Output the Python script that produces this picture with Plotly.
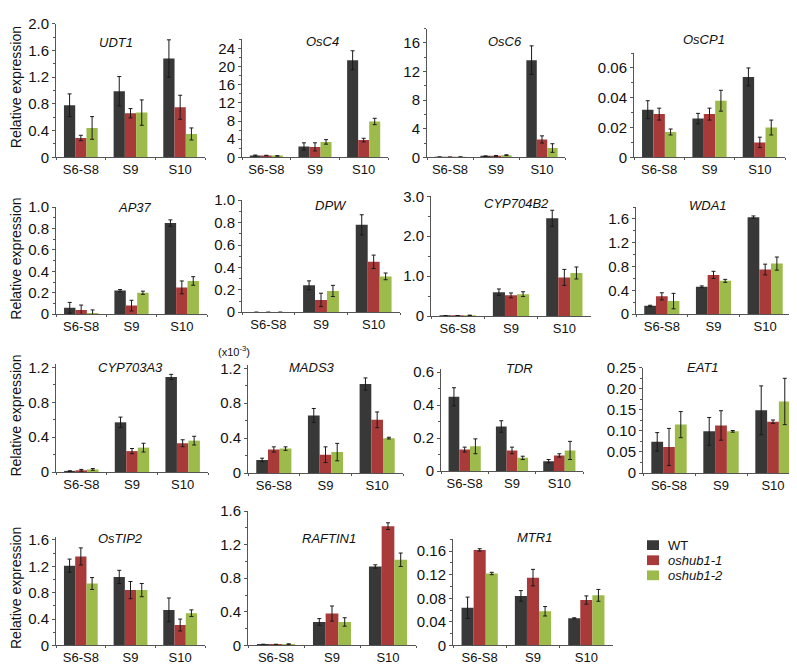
import plotly.graph_objects as go

W, H = 797, 664

# ==============================
# DATA
# ==============================
stages = ["S6-S8", "S9", "S10"]
genotypes = ["WT", "<i>oshub1-1</i>", "<i>oshub1-2</i>"]
colors = ["#383838", "#A83B3A", "#9DBB4A"]

# one row per genotype: WT, oshub1-1, oshub1-2 ; columns follow stages
udt1 = [[0.78, 0.99, 1.48], [0.29, 0.66, 0.75], [0.44, 0.67, 0.35]]
udt1_err = [[0.17, 0.22, 0.28], [0.04, 0.07, 0.18], [0.17, 0.19, 0.09]]

osc4 = [[0.4, 2.4, 21.4], [0.4, 2.3, 3.8], [0.3, 3.4, 7.9]]
osc4_err = [[0.1, 0.8, 2.1], [0.05, 0.9, 0.4], [0.05, 0.5, 0.7]]

osc6 = [[0.03, 0.15, 13.6], [0.02, 0.2, 2.5], [0.04, 0.3, 1.3]]
osc6_err = [[0.02, 0.05, 2.0], [0.01, 0.05, 0.5], [0.02, 0.06, 0.6]]

oscp1 = [[0.032, 0.026, 0.054], [0.029, 0.029, 0.010], [0.017, 0.038, 0.020]]
oscp1_err = [[0.006, 0.0035, 0.006], [0.004, 0.004, 0.0035], [0.002, 0.007, 0.005]]

ap37 = [[0.06, 0.22, 0.85], [0.04, 0.08, 0.25], [0.01, 0.20, 0.31]]
ap37_err = [[0.05, 0.01, 0.03], [0.045, 0.05, 0.06], [0.03, 0.015, 0.04]]

dpw = [[0, 0.24, 0.78], [0, 0.11, 0.45], [0, 0.19, 0.32]]
dpw_err = [[None, 0.04, 0.09], [None, 0.06, 0.06], [None, 0.05, 0.03]]

cyp704b2 = [[0.01, 0.60, 2.45], [0.01, 0.52, 0.97], [0.02, 0.55, 1.08]]
cyp704b2_err = [[0.005, 0.08, 0.2], [0.005, 0.06, 0.2], [0.005, 0.06, 0.15]]

wda1 = [[0.14, 0.46, 1.63], [0.30, 0.66, 0.75], [0.22, 0.56, 0.85]]
wda1_err = [[0.01, 0.015, 0.02], [0.06, 0.06, 0.09], [0.13, 0.025, 0.11]]

cyp703a3 = [[0.01, 0.57, 1.09], [0.02, 0.24, 0.33], [0.03, 0.28, 0.36]]
cyp703a3_err = [[0.005, 0.06, 0.03], [0.01, 0.03, 0.04], [0.01, 0.05, 0.05]]

mads3 = [[0.15, 0.66, 1.02], [0.27, 0.21, 0.61], [0.28, 0.24, 0.40]]
mads3_err = [[0.02, 0.08, 0.07], [0.03, 0.09, 0.09], [0.02, 0.10, 0.01]]

tdr = [[0.45, 0.27, 0.06], [0.13, 0.125, 0.095], [0.15, 0.08, 0.125]]
tdr_err = [[0.055, 0.035, 0.01], [0.015, 0.02, 0.01], [0.045, 0.01, 0.055]]

eat1 = [[0.074, 0.099, 0.149], [0.062, 0.113, 0.122], [0.115, 0.099, 0.170]]
eat1_err = [[0.022, 0.033, 0.058], [0.044, 0.035, 0.004], [0.031, 0.002, 0.055]]

ostip2 = [[1.21, 1.04, 0.54], [1.35, 0.84, 0.31], [0.94, 0.84, 0.49]]
ostip2_err = [[0.1, 0.1, 0.18], [0.13, 0.13, 0.09], [0.09, 0.1, 0.05]]

raftin1 = [[0.01, 0.28, 0.94], [0.01, 0.38, 1.42], [0.015, 0.28, 1.02]]
raftin1_err = [[0.005, 0.04, 0.02], [0.005, 0.09, 0.04], [0.005, 0.05, 0.08]]

mtr1 = [[0.064, 0.084, 0.046], [0.162, 0.115, 0.077], [0.122, 0.058, 0.085]]
mtr1_err = [[0.018, 0.009, 0.001], [0.002, 0.014, 0.007], [0.002, 0.008, 0.01]]

# tick labels
ticks_2 = [0, 0.4, 0.8, 1.2, 1.6, 2.0]
labels_2 = ["0", "0.4", "0.8", "1.2", "1.6", "2.0"]
ticks_24 = [0, 4, 8, 12, 16, 20, 24]
labels_24 = ["0", "4", "8", "12", "16", "20", "24"]
ticks_16 = [0, 4, 8, 12, 16]
labels_16 = ["0", "4", "8", "12", "16"]
ticks_006 = [0, 0.02, 0.04, 0.06]
labels_006 = ["0", "0.02", "0.04", "0.06"]
ticks_1 = [0, 0.2, 0.4, 0.6, 0.8, 1.0]
labels_1 = ["0", "0.2", "0.4", "0.6", "0.8", "1.0"]
ticks_3 = [0, 1, 2, 3]
labels_3 = ["0", "1.0", "2.0", "3.0"]
ticks_16b = [0, 0.4, 0.8, 1.2, 1.6]
labels_16b = ["0", "0.4", "0.8", "1.2", "1.6"]
ticks_12 = [0, 0.4, 0.8, 1.2]
labels_12 = ["0", "0.4", "0.8", "1.2"]
ticks_06 = [0, 0.2, 0.4, 0.6]
labels_06 = ["0", "0.2", "0.4", "0.6"]
ticks_025 = [0, 0.05, 0.10, 0.15, 0.20, 0.25]
labels_025 = ["0", "0.05", "0.10", "0.15", "0.20", "0.25"]
ticks_016 = [0, 0.04, 0.08, 0.12, 0.16]
labels_016 = ["0", "0.04", "0.08", "0.12", "0.16"]

# ==============================
# PANEL LAYOUT (pixels)
# title, means, errs, tickvals, ticktext, ymax, minor step,
# x-left, x-right, y of ymax, y of zero, title centre x, title centre y
# ==============================
panels = [
    ("UDT1", udt1, udt1_err, ticks_2, labels_2, 2.0, 0.2, 48, 197, 7, 144, 108, 26),
    ("OsC4", osc4, osc4_err, ticks_24, labels_24, 26, 2, 234, 380, 23, 144, 314, 25),
    ("OsC6", osc6, osc6_err, ticks_16, labels_16, 18, 2, 419, 557, 12, 144, 497, 25),
    ("OsCP1", oscp1, oscp1_err, ticks_006, labels_006, 0.07, 0.01, 626, 777, 37, 144, 696, 23),
    ("AP37", ap37, ap37_err, ticks_1, labels_1, 1.0, 0.1, 48, 199, 195, 305, 127, 195),
    ("DPW", dpw, dpw_err, ticks_1, labels_1, 1.0, 0.1, 234, 392, 188, 303, 323, 193),
    ("CYP704B2", cyp704b2, cyp704b2_err, ticks_3, labels_3, 3.0, 0.5, 423, 583, 184, 307, 508, 191),
    ("WDA1", wda1, wda1_err, ticks_16b, labels_16b, 1.8, 0.2, 628, 783, 195, 305, 700, 193),
    ("CYP703A3", cyp703a3, cyp703a3_err, ticks_12, labels_12, 1.24, 0.2, 48, 200, 356, 467, 122, 360),
    ("MADS3", mads3, mads3_err, ticks_12, labels_12, 1.24, 0.2, 240, 395, 357, 468, 304, 360),
    ("TDR", tdr, tdr_err, ticks_06, labels_06, 0.62, 0.1, 433, 575, 361, 466, 512, 361),
    ("EAT1", eat1, eat1_err, ticks_025, labels_025, 0.25, 0.025, 635, 791, 360, 468, 695, 360),
    ("OsTIP2", ostip2, ostip2_err, ticks_16b, labels_16b, 1.64, 0.2, 48, 197, 534, 645, 112, 535),
    ("RAFTIN1", raftin1, raftin1_err, ticks_16b, labels_16b, 1.6, 0.2, 240, 408, 507, 645, 321, 535),
    ("MTR1", mtr1, mtr1_err, ticks_016, labels_016, 0.18, 0.02, 445, 605, 536, 645, 526, 534),
]

FONT = "Liberation Sans, Arial, sans-serif"
AXIS_COLOR = "#555555"

fig = go.Figure()
layout = {}
annotations = []
shapes = []

for i, (title, means, errs, tv, tt, ymax, mstep, x0, x1, ytop, yzero, tx, ty) in enumerate(panels):
    n = "" if i == 0 else str(i + 1)
    for g in range(3):
        fig.add_trace(go.Bar(
            x=stages, y=means[g],
            name=genotypes[g],
            marker=dict(color=colors[g], line=dict(width=0)),
            error_y=dict(type="data", array=errs[g], color="#1a1a1a", thickness=1, width=2),
            xaxis="x" + n, yaxis="y" + n,
            showlegend=False,
        ))
    layout["xaxis" + n] = dict(
        domain=[x0 / W, x1 / W], anchor="y" + n,
        type="category", showline=True, linecolor=AXIS_COLOR, linewidth=1,
        ticks="outside", tickson="boundaries", ticklen=2, tickcolor=AXIS_COLOR,
        tickfont=dict(size=13, color="#111111", family=FONT),
        showgrid=False, zeroline=False, fixedrange=True,
    )
    layout["yaxis" + n] = dict(
        domain=[1 - yzero / H, 1 - ytop / H], anchor="x" + n,
        range=[0, ymax], tickmode="array", tickvals=tv, ticktext=tt,
        showline=True, linecolor=AXIS_COLOR, linewidth=1,
        ticks="outside", ticklen=3, tickcolor=AXIS_COLOR,
        minor=dict(tickmode="linear", tick0=0, dtick=mstep, ticks="outside",
                   ticklen=2, tickcolor=AXIS_COLOR),
        tickfont=dict(size=15, color="#111111", family=FONT),
        showgrid=False, zeroline=False, fixedrange=True,
    )
    annotations.append(dict(
        text="<i>" + title + "</i>", x=tx / W, y=1 - ty / H,
        xref="paper", yref="paper", showarrow=False,
        xanchor="center", yanchor="middle",
        font=dict(size=13, color="#111111", family=FONT),
    ))

# y-axis titles for the left column
for yc in [72, 248, 409, 586]:
    annotations.append(dict(
        text="Relative expression", x=8 / W, y=1 - yc / H,
        xref="paper", yref="paper", showarrow=False, textangle=-90,
        xanchor="center", yanchor="middle",
        font=dict(size=14, color="#111111", family=FONT),
    ))

# scale note above MADS3
annotations.append(dict(
    text="(x10<sup>-3</sup>)", x=226 / W, y=1 - 343 / H,
    xref="paper", yref="paper", showarrow=False,
    xanchor="center", yanchor="middle",
    font=dict(size=11, color="#111111", family=FONT),
))

# legend: colour swatches + labels
for g, yc in enumerate([542, 557.5, 573]):
    shapes.append(dict(
        type="rect", xref="paper", yref="paper",
        x0=639 / W, x1=651 / W, y0=1 - (yc + 5) / H, y1=1 - (yc - 5) / H,
        fillcolor=colors[g], line=dict(width=0),
    ))
    annotations.append(dict(
        text=genotypes[g], x=659 / W, y=1 - yc / H,
        xref="paper", yref="paper", showarrow=False,
        xanchor="left", yanchor="middle", borderpad=0,
        font=dict(size=13, color="#111111", family=FONT),
    ))

fig.update_layout(
    width=W, height=H,
    margin=dict(l=0, r=0, t=0, b=0),
    paper_bgcolor="white", plot_bgcolor="white",
    barmode="group", bargap=0.32, bargroupgap=0,
    font=dict(family=FONT, color="#111111"),
    annotations=annotations,
    shapes=shapes,
    showlegend=False,
    **layout,
)

fig.write_html("out.html")
